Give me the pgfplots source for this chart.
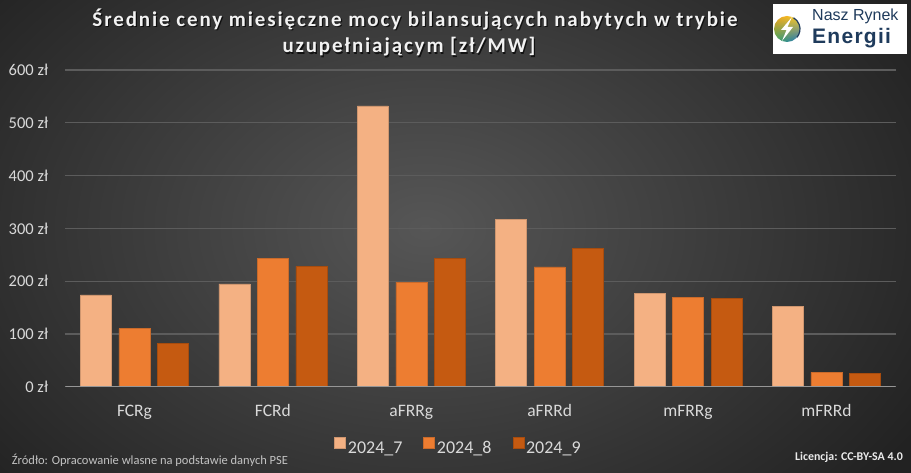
\documentclass[border=0pt]{standalone}
\usepackage{pgfplots}
\pgfplotsset{compat=1.18}
\usetikzlibrary{shadings}
\usepackage{fontspec}
\setmainfont{Carlito}
\newfontfamily\titlef[LetterSpace=9]{Carlito}
\newfontfamily\logof{Liberation Sans}
\newfontfamily\logofb[LetterSpace=6]{Liberation Sans}
\definecolor{c1}{HTML}{F4B183}
\definecolor{c2}{HTML}{ED7D31}
\definecolor{c3}{HTML}{C55A11}
\definecolor{txt}{HTML}{D9D9D9}
\definecolor{gridc}{HTML}{5C5C5C}
\definecolor{navy}{HTML}{1F3B5C}
\definecolor{bgin}{HTML}{565656}
\definecolor{bgout}{HTML}{222222}
\definecolor{lgA}{HTML}{F0A01E}
\definecolor{lgB}{HTML}{FAD228}
\definecolor{lgC}{HTML}{3CAA5A}
\definecolor{lgD}{HTML}{1E6EC8}
\definecolor{zeroc}{HTML}{969696}
\begin{document}
\begin{tikzpicture}
\useasboundingbox (0,0) rectangle (911bp,473bp);
\shade[inner color=bgin, outer color=bgout] (-150bp,-150bp) rectangle (1000bp,640bp);
\begin{axis}[
  at={(65.3bp,86.3bp)}, anchor=south west,
  width=830.3bp, height=316.7bp, scale only axis,
  xmin=-0.5, xmax=5.5, ymin=0, ymax=600,
  ybar=7.5bp, bar width=31bp,
  axis line style={draw=none},
  major tick length=0pt,
  ymajorgrids, grid style={gridc, line width=1.2bp},
  ytick={0,100,...,600},
  xtick={0,...,5},
  xticklabels={FCRg,FCRd,aFRRg,aFRRd,mFRRg,mFRRd},
  /pgf/number format/assume math mode=true,
  yticklabel={\pgfmathprintnumber{\tick}~zł},
  yticklabel style={text=txt, font=\fontsize{16.5bp}{18bp}\selectfont, anchor=east, inner sep=0pt, xshift=-17bp},
  xticklabel style={text=txt, font=\fontsize{17.5bp}{20bp}\selectfont, anchor=base, inner sep=0pt, yshift=-30bp},
  legend style={at={(0.4736,-0.190)}, anchor=center, draw=none, fill=none,
    legend columns=3, font=\fontsize{18bp}{20bp}\selectfont, text=txt,
    /tikz/every even column/.append style={column sep=19bp},
    nodes={inner sep=2bp}},
  legend image code/.code={\fill[#1] (0bp,0.2bp) rectangle (11bp,11.2bp);},
]
\addplot[fill=c1, draw=c1!85!black, line width=0.5bp] coordinates {(0,174) (1,195) (2,532) (3,317) (4,177) (5,152)};
\addplot[fill=c2, draw=c2!85!black, line width=0.5bp] coordinates {(0,110) (1,243) (2,198) (3,227) (4,169) (5,27)};
\addplot[fill=c3, draw=c3!85!black, line width=0.5bp] coordinates {(0,82) (1,228) (2,243) (3,262) (4,167) (5,25)};
\legend{2024\_7, 2024\_8, 2024\_9}
\draw[line width=1.3bp, color=zeroc] (axis cs:-0.5,0) -- (axis cs:5.5,0);
\end{axis}
% title
\node[anchor=base, inner sep=0pt, font=\titlef\bfseries\fontsize{21bp}{23bp}\selectfont, text=black, opacity=0.7] at (416.2bp,445.1bp) {Średnie ceny miesięczne mocy bilansujących nabytych w trybie};
\node[anchor=base, inner sep=0pt, font=\titlef\bfseries\fontsize{21bp}{23bp}\selectfont, text=white!95!black] at (415bp,446.3bp) {Średnie ceny miesięczne mocy bilansujących nabytych w trybie};
\node[anchor=base, inner sep=0pt, font=\titlef\bfseries\fontsize{21bp}{23bp}\selectfont, text=black, opacity=0.7] at (410.2bp,418.8bp) {uzupełniającym [zł/MW]};
\node[anchor=base, inner sep=0pt, font=\titlef\bfseries\fontsize{21bp}{23bp}\selectfont, text=white!95!black] at (409bp,420bp) {uzupełniającym [zł/MW]};
% footer
\node[anchor=base west, inner sep=0pt, text=txt!90!black, font=\fontsize{12.5bp}{14bp}\selectfont] at (11.7bp,9bp) {Źródło: Opracowanie wlasne na podstawie danych PSE};
\node[anchor=base east, inner sep=0pt, text=white!92!black, font=\bfseries\fontsize{11.9bp}{13bp}\selectfont] at (903bp,12.3bp) {Licencja: CC-BY-SA 4.0};
% logo
\fill[white] (773bp,419bp) rectangle (907bp,469bp);
\begin{scope}
\clip (787bp,444bp) circle (13bp);
\shade[upper left=lgA, upper right=lgB, lower left=lgC, lower right=lgD] (774bp,431bp) rectangle (800bp,457bp);
\end{scope}
\draw[navy, line width=1.2bp] (787bp,444bp) ++(-40:13bp) arc (-40:60:13bp);
\fill[white] (792bp,456bp) -- (781bp,443bp) -- (786.5bp,443bp) -- (782bp,432bp) -- (793bp,446bp) -- (787.5bp,446bp) -- cycle;
\node[anchor=base west, inner sep=0pt, text=navy, font=\logof\fontsize{16bp}{16bp}\selectfont] at (812bp,452.5bp) {Nasz Rynek};
\node[anchor=base west, inner sep=0pt, text=navy, font=\logofb\bfseries\fontsize{21bp}{22bp}\selectfont] at (812bp,429bp) {Energii};
\end{tikzpicture}
\end{document}
